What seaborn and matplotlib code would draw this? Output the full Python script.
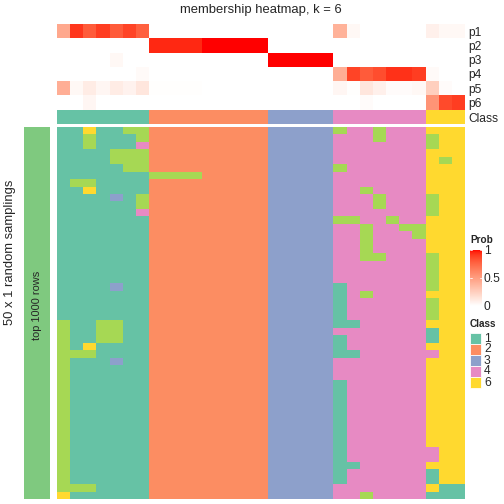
import numpy as np
import pandas as pd
import seaborn as sns
import matplotlib.pyplot as plt
from matplotlib.colors import ListedColormap
from matplotlib.patches import Rectangle

sns.set_style("white")
plt.rcParams["font.family"] = ["Liberation Sans", "DejaVu Sans"]

# membership probabilities, one value per sample (31 samples)
prob_labels = ["p1", "p2", "p3", "p4", "p5", "p6"]
p1 = [0.45, 0.92, 0.8, 0.9, 0.8, 0.88, 0.78] + [0] * 9 + [0] * 5 + [0.4, 0.04, 0, 0, 0, 0, 0] + [0.08, 0.04, 0.04]
p2 = [0] * 7 + [0.95] * 4 + [1.0] * 5 + [0] * 5 + [0] * 7 + [0, 0, 0]
p3 = [0, 0, 0, 0, 0.04, 0, 0] + [0] * 9 + [1.0] * 5 + [0] * 7 + [0, 0, 0]
p4 = [0, 0, 0, 0, 0, 0, 0.03] + [0] * 9 + [0] * 5 + [0.42, 0.88, 0.8, 0.85, 0.93, 0.93, 0.9] + [0.03, 0, 0]
p5 = [0.42, 0.04, 0.1, 0.05, 0.1, 0.07, 0.13] + [0.01] * 4 + [0] * 5 + [0] * 5 + [0.05, 0.01, 0.13, 0.08, 0.02, 0.02, 0.04] + [0.25, 0.02, 0]
p6 = [0, 0, 0.05, 0, 0, 0, 0] + [0] * 9 + [0] * 5 + [0, 0, 0.02, 0, 0, 0, 0] + [0.55, 0.86, 0.9]

class_bar = [1] * 7 + [2] * 9 + [3] * 5 + [4] * 7 + [6] * 3

# class assignment in each of the 50 random samplings
samplings = [
    "1161155 222222222 33333 5445444 666",
    "1151115 222222222 33333 4445444 566",
    "1151114 222222222 33333 4444444 566",
    "1111555 222222222 33333 4444444 666",
    "1111555 222222222 33333 4444444 656",
    "1111155 222222222 33333 5444444 666",
    "1111111 555522222 33333 4444444 666",
    "1551111 222222222 33333 4444444 666",
    "1161111 222222222 33333 4454444 666",
    "1111315 222222222 33333 4445444 566",
    "1111115 222222222 33333 4445444 566",
    "1111114 222222222 33333 4444444 566",
    "1111111 222222222 33333 5544544 666",
    "1111111 222222222 33333 4454455 666",
    "1111111 222222222 33333 4454445 666",
    "1111111 222222222 33333 4454444 666",
    "1111111 222222222 33333 4454444 666",
    "1111111 222222222 33333 4455444 566",
    "1111111 222222222 33333 4444444 566",
    "1111111 222222222 33333 4444444 566",
    "1111111 222222222 33333 4444444 566",
    "1111311 222222222 33333 1444444 566",
    "1111111 222222222 33333 1454444 666",
    "1111111 222222222 33333 1444444 566",
    "1111111 222222222 33333 1444444 566",
    "1111111 222222222 33333 1444444 566",
    "5115511 222222222 33333 1144444 666",
    "5115511 222222222 33333 4444444 166",
    "5115511 222222222 33333 1444444 166",
    "5161111 222222222 33333 1444444 666",
    "5551111 222222222 33333 1144444 466",
    "5111311 222222222 33333 4444444 666",
    "5111111 222222222 33333 4444444 666",
    "5111111 222222222 33333 4444444 666",
    "5111111 222222222 33333 1444444 666",
    "5111111 222222222 33333 1444444 666",
    "5111111 222222222 33333 1444444 666",
    "5111111 222222222 33333 1444444 666",
    "5111111 222222222 33333 1444444 666",
    "5111111 222222222 33333 1444444 666",
    "5111111 222222222 33333 1444444 666",
    "5111111 222222222 33333 1444444 666",
    "5111111 222222222 33333 1444444 666",
    "5111111 222222222 33333 1444444 466",
    "5111111 222222222 33333 1444444 466",
    "5111111 222222222 33333 1144444 666",
    "5111111 222222222 33333 1444444 166",
    "5111111 222222222 33333 1444444 166",
    "5551111 222222222 33333 4444444 611",
    "6111111 222222222 33333 4454444 111",
]

legend_classes = ["1", "2", "3", "4", "6"]
class_colors = {1: "#66C2A5", 2: "#FC8D62", 3: "#8DA0CB", 4: "#E78AC3", 5: "#A6D854", 6: "#FFD92F"}


# white -> red ramp interpolated in LAB space (like colorRamp2)
def lab_to_rgb(L, a, b):
    fy = (L + 16) / 116
    fx = fy + a / 500
    fz = fy - b / 200
    def finv(t):
        return np.where(t > 6 / 29, t ** 3, 3 * (6 / 29) ** 2 * (t - 4 / 29))
    X, Y, Z = 0.95047 * finv(fx), finv(fy), 1.08883 * finv(fz)
    r = 3.2406 * X - 1.5372 * Y - 0.4986 * Z
    g = -0.9689 * X + 1.8758 * Y + 0.0415 * Z
    bb = 0.0557 * X - 0.2040 * Y + 1.0570 * Z
    rgb = np.clip(np.stack([r, g, bb], axis=-1), 0, 1)
    return np.where(rgb > 0.0031308, 1.055 * rgb ** (1 / 2.4) - 0.055, 12.92 * rgb)


t = np.linspace(0, 1, 256)[:, None]
lab = (1 - t) * np.array([100, 0, 0]) + t * np.array([53.24, 80.09, 67.20])
prob_cmap = ListedColormap(lab_to_rgb(lab[:, 0], lab[:, 1], lab[:, 2]))
class_cmap = ListedColormap([class_colors[k] for k in range(1, 7)])

prob_df = pd.DataFrame([p1, p2, p3, p4, p5, p6], index=prob_labels)
class_df = pd.DataFrame([class_bar], index=["Class"])
grid_df = pd.DataFrame([[int(c) for c in r.replace(" ", "")] for r in samplings])

W = 504


def box(x0, y0, x1, y1):
    return [x0 / W, 1 - y1 / W, (x1 - x0) / W, (y1 - y0) / W]


fig = plt.figure(figsize=(7, 7), dpi=72)

ax_prob = fig.add_axes(box(57, 24, 465, 109.5))
cax = fig.add_axes(box(470, 250, 482, 306))
sns.heatmap(prob_df, ax=ax_prob, cmap=prob_cmap, vmin=0, vmax=1, cbar_ax=cax,
            cbar_kws={"ticks": [0, 0.5, 1]}, xticklabels=False, yticklabels=True)

ax_cls = fig.add_axes(box(57, 110, 465, 124.3))
sns.heatmap(class_df, ax=ax_cls, cmap=class_cmap, vmin=0.5, vmax=6.5, cbar=False,
            xticklabels=False, yticklabels=True)

for ax in (ax_prob, ax_cls):
    ax.yaxis.tick_right()
    ax.tick_params(axis="y", length=0, pad=3, labelsize=12, rotation=0)
    ax.set_xlabel("")
    ax.set_ylabel("")

ax_main = fig.add_axes(box(57, 127, 465, 499))
sns.heatmap(grid_df, ax=ax_main, cmap=class_cmap, vmin=0.5, vmax=6.5, cbar=False,
            xticklabels=False, yticklabels=False)

ax_left = fig.add_axes(box(24, 127, 50, 499))
sns.heatmap(pd.DataFrame([[1]] * 50), ax=ax_left, cmap=ListedColormap(["#7FC97F"]),
            cbar=False, xticklabels=False, yticklabels=False)
ax_left.text(0.5, 0.52, "top 1000 rows", transform=ax_left.transAxes, rotation=90,
             ha="center", va="center", fontsize=11)

# colorbar styling
cbar = ax_prob.collections[0].colorbar
cbar.outline.set_visible(False)
cax.set_yticklabels(["0", "0.5", "1"])
cax.tick_params(length=0, labelsize=12, pad=2)
for v in (0, 0.5, 1):
    cax.plot([0, 0.15], [v, v], color="white", lw=0.8, transform=cax.get_yaxis_transform())
    cax.plot([0.85, 1], [v, v], color="white", lw=0.8, transform=cax.get_yaxis_transform())

# titles and labels
fig.text(261 / W, 1 - 10 / W, "membership heatmap, k = 6", ha="center", va="center", fontsize=13)
fig.text(10 / W, 1 - 252 / W, "50 x 1 random samplings", rotation=90, ha="center", va="center", fontsize=13)

overlay = fig.add_axes([0, 0, 1, 1])
overlay.set_xlim(0, W)
overlay.set_ylim(W, 0)
overlay.axis("off")
overlay.text(470, 240, "Prob", fontsize=10, fontweight="bold", va="center", ha="left")
overlay.text(470, 324, "Class", fontsize=10, fontweight="bold", va="center", ha="left")
for i, lab_ in enumerate(legend_classes):
    y0 = 333 + 11 * i
    overlay.add_patch(Rectangle((470, y0), 11, 11, facecolor=class_colors[int(lab_)],
                                edgecolor="white", linewidth=0.8))
    overlay.text(484, y0 + 5.5, lab_, fontsize=12, va="center", ha="left")

fig.savefig("out.png", dpi=72)
